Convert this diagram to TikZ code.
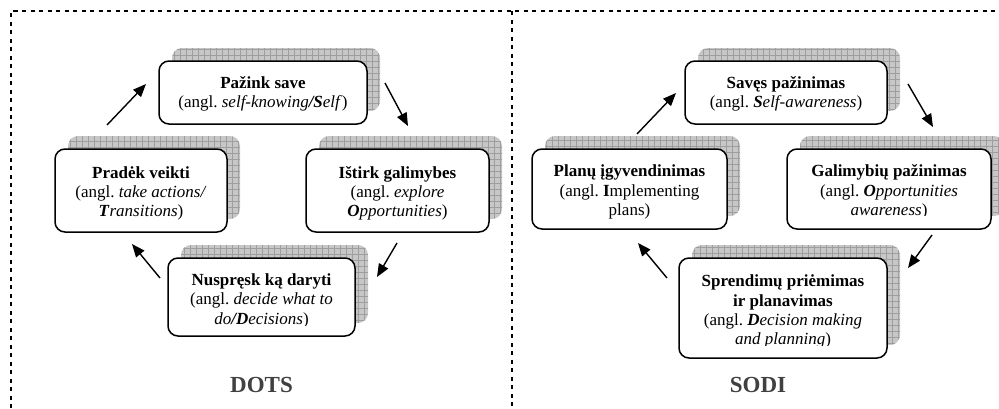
\documentclass[tikz,border=0pt]{standalone}
\usepackage{fontspec}
\setmainfont{Liberation Serif}
\usetikzlibrary{arrows.meta,calc}
\frenchspacing
\newcommand\boxpair[5]{%
  \node[shadowbox, minimum width={#4-#2}, minimum height={#5-#3}] (#1s) at ({(#2+#4)/2+13},{(#3+#5)/2-13}) {};
  \node[boxw, minimum width={#4-#2}, minimum height={#5-#3}] (#1) at ({(#2+#4)/2},{(#3+#5)/2}) {};
}
\begin{document}
\begin{tikzpicture}[x=1pt,y=-1pt,
  frame/.style={line width=1.3pt, dash pattern=on 4pt off 4.5pt},
  boxw/.style={draw, line width=1.5pt, rounded corners=10pt, fill=white, inner sep=0pt, outer sep=0pt},
  shadowbox/.style={fill=black!22, rounded corners=10pt, inner sep=0pt, outer sep=0pt,
    path picture={\draw[black!38, line width=0.4pt, step=6pt] (path picture bounding box.south west) grid (path picture bounding box.north east);}},
  txt/.style={anchor=north, align=center, inner sep=0pt, font=\fontsize{17}{19.3}\selectfont},
  arr/.style={line width=1.4pt, -{Triangle[length=13pt,width=10.5pt]}},
  title/.style={anchor=base, font=\fontsize{23}{26}\selectfont\bfseries, text=black!75}
]
\useasboundingbox (0,0) rectangle (999,408);
% frame
\coordinate (fbl) at (11,408);
\coordinate (ftl) at (11,11);
\coordinate (ftr) at (999,11);
\coordinate (fmt) at (512,11);
\coordinate (fmb) at (512,408);
\draw[frame] (fbl) -- (ftl) -- (ftr);
\draw[frame] (fmt) -- (fmb);

% DOTS boxes
\boxpair{A}{159}{61}{367}{124}
\boxpair{B}{306}{149}{489}{232}
\boxpair{C}{168}{258}{355}{336}
\boxpair{D}{55}{149}{227}{232}
% SODI boxes
\boxpair{E}{685}{61}{887}{124}
\boxpair{F}{787}{149}{991}{229}
\boxpair{G}{679}{258}{887}{358}
\boxpair{H}{532}{149}{727}{229}

% texts
\node[txt] (At) at ($(A.north)+(0,13.7)$) {\strut\textbf{Pažink save}\\(angl. \textit{self-knowing}\textbf{\textit{/S}}\textit{elf})};
\node[txt] (Bt) at ($(B.north)+(0,15.5)$) {\strut\textbf{Ištirk galimybes}\\(angl. \textit{explore}\\\textbf{\textit{O}}\textit{pportunities})};
\begin{scope}
\clip (C.north west) rectangle ($(C.south east)+(0,-11)$);
\node[txt] (Ct) at ($(C.north)+(0,13.7)$) {\strut\textbf{Nuspręsk ką daryti}\\(angl. \textit{decide what to}\\\textit{do}\textbf{\textit{/D}}\textit{ecisions})};
\end{scope}
\node[txt] (Dt) at ($(D.north)+(0,15.5)$) {\strut\textbf{Pradėk veikti}\\(angl. \textit{take actions/}\\\textbf{\textit{T}}\textit{ransitions})};

\node[txt] (Et) at ($(E.north)+(0,13.7)$) {\strut\textbf{Savęs pažinimas}\\(angl. \textbf{\textit{S}}\textit{elf-awareness})};
\begin{scope}
\clip (F.north west) rectangle ($(F.south east)+(0,-14)$);
\node[txt] (Ft) at ($(F.north)+(0,14.2)$) {\strut\textbf{Galimybių pažinimas}\\(angl. \textbf{\textit{O}}\textit{pportunities}\\\textit{awareness})};
\end{scope}
\begin{scope}
\clip (G.north west) rectangle ($(G.south east)+(0,-13)$);
\node[txt] (Gt) at ($(G.north)+(0,15.2)$) {\strut\textbf{Sprendimų priėmimas}\\\textbf{ir planavimas}\\(angl. \textbf{\textit{D}}\textit{ecision making}\\\textit{and planning})};
\end{scope}
\node[txt] (Ht) at ($(H.north)+(0,14.2)$) {\strut\textbf{Planų įgyvendinimas}\\(angl. \textbf{I}mplementing\\plans)};

% titles
\node[title] (dots) at (261.5,392) {DOTS};
\node[title] (sodi) at (758,392) {SODI};

% arrows DOTS
\coordinate (a1s) at (107,125); \coordinate (a1e) at (146,84);
\coordinate (a2s) at (385,83);  \coordinate (a2e) at (408,126);
\coordinate (a3s) at (397,243); \coordinate (a3e) at (377,277);
\coordinate (a4s) at (160,278); \coordinate (a4e) at (132,244);
\draw[arr] (a1s) -- (a1e);
\draw[arr] (a2s) -- (a2e);
\draw[arr] (a3s) -- (a3e);
\draw[arr] (a4s) -- (a4e);
% arrows SODI
\coordinate (b1s) at (637,134); \coordinate (b1e) at (676,93);
\coordinate (b2s) at (908,84);  \coordinate (b2e) at (933,127);
\coordinate (b3s) at (932,235); \coordinate (b3e) at (908,268);
\coordinate (b4s) at (667,278); \coordinate (b4e) at (638,243);
\draw[arr] (b1s) -- (b1e);
\draw[arr] (b2s) -- (b2e);
\draw[arr] (b3s) -- (b3e);
\draw[arr] (b4s) -- (b4e);
\end{tikzpicture}
\end{document}
